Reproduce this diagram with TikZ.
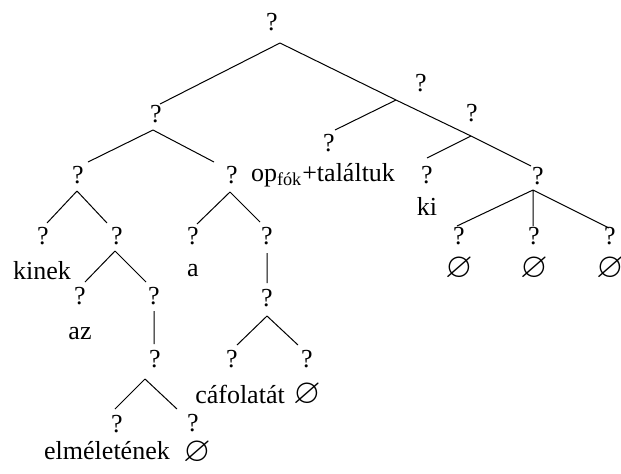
\documentclass[tikz,border=0pt]{standalone}
\usepackage{amssymb}
\usepackage{fontspec}
\setmainfont{Liberation Serif}

\newcommand{\nul}{\raisebox{0pt}[9pt][0pt]{\scalebox{1.35}{$\varnothing$}}}

\begin{document}
\begin{tikzpicture}[x=0.5pt,y=-0.5pt,font=\fontsize{13}{15}\selectfont,
    every node/.style={inner sep=0pt}]
  \useasboundingbox (0,0) rectangle (621,473);

    \node (r) at (272,22) {?};
    \node (l) at (156,114) {?};
    \node (rt) at (421,83) {?};
    \node (ll) at (78,175) {?};
    \node (lr) at (232,175) {?};
    \node (rop) at (329,143) {?};
    \node (rr) at (472,113) {?};
    \node (rki) at (427,175) {?};
    \node (rrr) at (538,176) {?};

    \node (lla) at (43,236) {?};
    \node (llb) at (117,236) {?};
    \node (lra) at (193,236) {?};
    \node (lrb) at (267,236) {?};
    \node (az) at (80,296) {?};
    \node (llc) at (154,296) {?};
    \node (lrc) at (267,298) {?};
    \node (lld) at (155,359) {?};
    \node (caf) at (232,359) {?};
    \node (lre) at (307,359) {?};
    \node (elm) at (117,424) {?};
    \node (lle) at (193,423) {?};
    \node (n1) at (459,236) {?};
    \node (n2) at (534,236) {?};
    \node (n3) at (610,236) {?};

    \node (wkinek) at (42,271) {kinek};
    \node (waz) at (80,334) {az};
    \node (wa) at (193,271) {a};
    \node (welm) at (107,451) {elméletének};
    \node (wn0) at (197,452) {\nul};
    \node (wcaf) at (240,394) {cáfolatát};
    \node (wn4) at (307,394) {\nul};
    \node (wop) at (323,175) {op\textsubscript{fók}+találtuk};
    \node (wki) at (427,206) {ki};
    \node (wn1) at (459,268) {\nul};
    \node (wn2) at (534,268) {\nul};
    \node (wn3) at (610,268) {\nul};

    \coordinate (a0) at (280,43);
    \coordinate (a1) at (153,130);
    \coordinate (a3) at (77,191);
    \coordinate (a4) at (230,192);
    \coordinate (a6) at (115,251);
    \coordinate (a13) at (145,379);
    \coordinate (a11) at (267,316);
    \coordinate (a8) at (533,190);
    \coordinate (b1) at (396,100);
    \coordinate (b2) at (471,136);
    \coordinate (e0) at (531,166);
    \coordinate (e1) at (160,104);
    \coordinate (e3) at (88,162);
    \coordinate (e4) at (214,162);
    \coordinate (e5) at (47,223);
    \coordinate (e6) at (107,223);
    \coordinate (e7) at (197,224);
    \coordinate (e8) at (260,222);
    \coordinate (e9) at (85,282);
    \coordinate (e10) at (146,282);
    \coordinate (v1) at (154,311);
    \coordinate (v2) at (154,344);
    \coordinate (v3) at (267,253);
    \coordinate (v4) at (267,283);
    \coordinate (e15) at (115,409);
    \coordinate (e16) at (177,409);
    \coordinate (e12) at (237,345);
    \coordinate (e14) at (298,345);
    \coordinate (eop) at (335,130);
    \coordinate (eki) at (427,158);
    \coordinate (en1) at (457,226);
    \coordinate (en2) at (533,226);
    \coordinate (en3) at (609,228);

    \draw[line width=0.5pt]
      (a0) -- (e1)
      (a0) -- (b1) -- (b2) -- (e0)
      (b1) -- (eop)
      (b2) -- (eki)
      (a1) -- (e3)
      (a1) -- (e4)
      (a3) -- (e5)
      (a3) -- (e6)
      (a4) -- (e7)
      (a4) -- (e8)
      (a6) -- (e9)
      (a6) -- (e10)
      (v1) -- (v2)
      (v3) -- (v4)
      (a13) -- (e15)
      (a13) -- (e16)
      (a11) -- (e12)
      (a11) -- (e14)
      (a8) -- (en1)
      (a8) -- (en2)
      (a8) -- (en3);
\end{tikzpicture}
\end{document}
